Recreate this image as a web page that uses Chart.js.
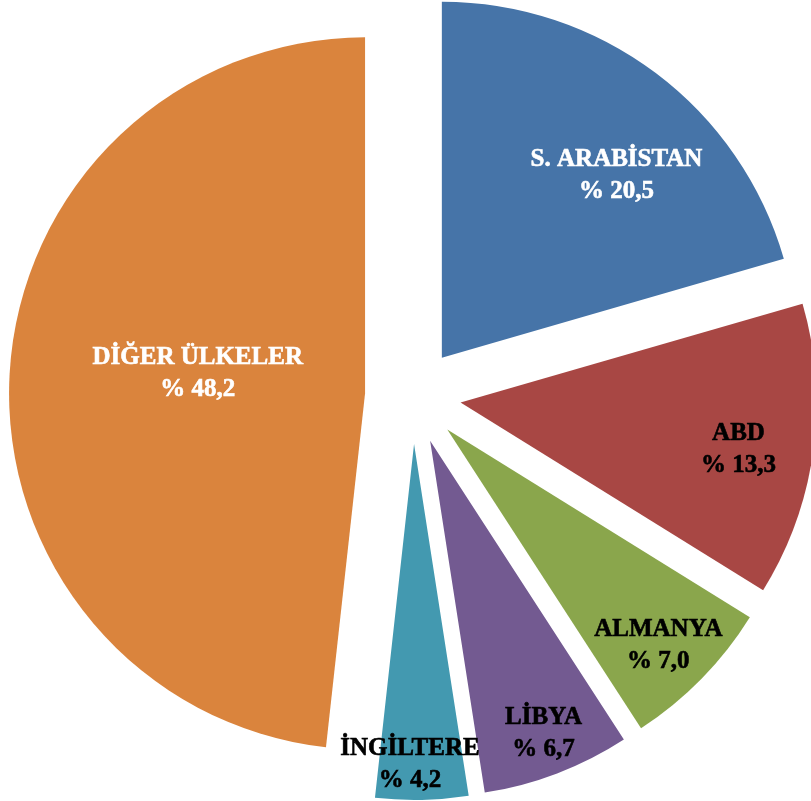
<!DOCTYPE html>
<html lang="tr">
<head>
  <meta charset="UTF-8">
  <title>Ülkelere Göre Dağılım</title>
  <script src="https://cdn.jsdelivr.net/npm/chart.js"></script>
  <style>
    html, body { margin: 0; padding: 0; background: #fff; }
    .chart-box { width: 811px; height: 801px; position: relative; }
  </style>
</head>
<body>
  <div class="chart-box">
    <canvas id="pieChart"></canvas>
  </div>
  <script>
    // data
    const countries = ['S. ARABİSTAN', 'ABD', 'ALMANYA', 'LİBYA', 'İNGİLTERE', 'DİĞER ÜLKELER'];
    const shares = [20.5, 13.3, 7.0, 6.7, 4.2, 48.2];

    // styles
    const sliceColors = ['#4674A8', '#A84744', '#8AA64C', '#735A91', '#4399B0', '#DA843D'];
    const textColors = ['#ffffff', '#000000', '#000000', '#000000', '#000000', '#ffffff'];
    // label anchor: fraction of radius and angle shift (deg) from slice middle
    const labelAnchors = [
      { r: 0.711, da: 6.7 }, { r: 0.791, da: 1.4 }, { r: 0.846, da: 1.1 },
      { r: 0.877, da: -0.4 }, { r: 0.895, da: 2.0 }, { r: 0.474, da: 4.2 }
    ];

    const fmtPct = v => '% ' + v.toFixed(1).replace('.', ',');

    // move every arc out along its middle angle (Excel-style exploded pie)
    const explodePlugin = {
      id: 'explode',
      afterDatasetsUpdate(chart, args, opts) {
        const a = chart.chartArea;
        const cx = (a.left + a.right) / 2, cy = (a.top + a.bottom) / 2;
        chart.getDatasetMeta(0).data.forEach(arc => {
          const mid = (arc.startAngle + arc.endAngle) / 2;
          arc.x = cx + Math.cos(mid) * opts.distance;
          arc.y = cy + Math.sin(mid) * opts.distance;
        });
      }
    };

    const sliceLabels = {
      id: 'sliceLabels',
      afterDatasetsDraw(chart) {
        const ctx = chart.ctx;
        ctx.save();
        ctx.font = 'bold 25px "Liberation Serif", serif';
        ctx.textAlign = 'center';
        ctx.textBaseline = 'alphabetic';
        ctx.lineWidth = 0.6;
        chart.getDatasetMeta(0).data.forEach((arc, i) => {
          const an = labelAnchors[i];
          const mid = (arc.startAngle + arc.endAngle) / 2 + an.da * Math.PI / 180;
          const r = arc.outerRadius * an.r;
          const x = arc.x + Math.cos(mid) * r;
          const y = arc.y + Math.sin(mid) * r;
          ctx.fillStyle = textColors[i];
          ctx.strokeStyle = textColors[i];
          [[countries[i], y - 8], [fmtPct(shares[i]), y + 24]].forEach(([t, ty]) => {
            ctx.fillText(t, x, ty);
            ctx.strokeText(t, x, ty);
          });
        });
        ctx.restore();
      }
    };

    new Chart(document.getElementById('pieChart').getContext('2d'), {
      type: 'pie',
      data: {
        labels: countries,
        datasets: [{
          data: shares,
          backgroundColor: sliceColors,
          borderWidth: 0
        }]
      },
      options: {
        responsive: true,
        maintainAspectRatio: false,
        animation: false,
        events: [],
        radius: 356,
        rotation: 0,
        layout: { padding: { left: 15, right: 0, top: 0, bottom: 9 } },
        plugins: {
          legend: { display: false },
          tooltip: { enabled: false },
          explode: { distance: 48 }
        }
      },
      plugins: [explodePlugin, sliceLabels]
    });
  </script>
</body>
</html>
